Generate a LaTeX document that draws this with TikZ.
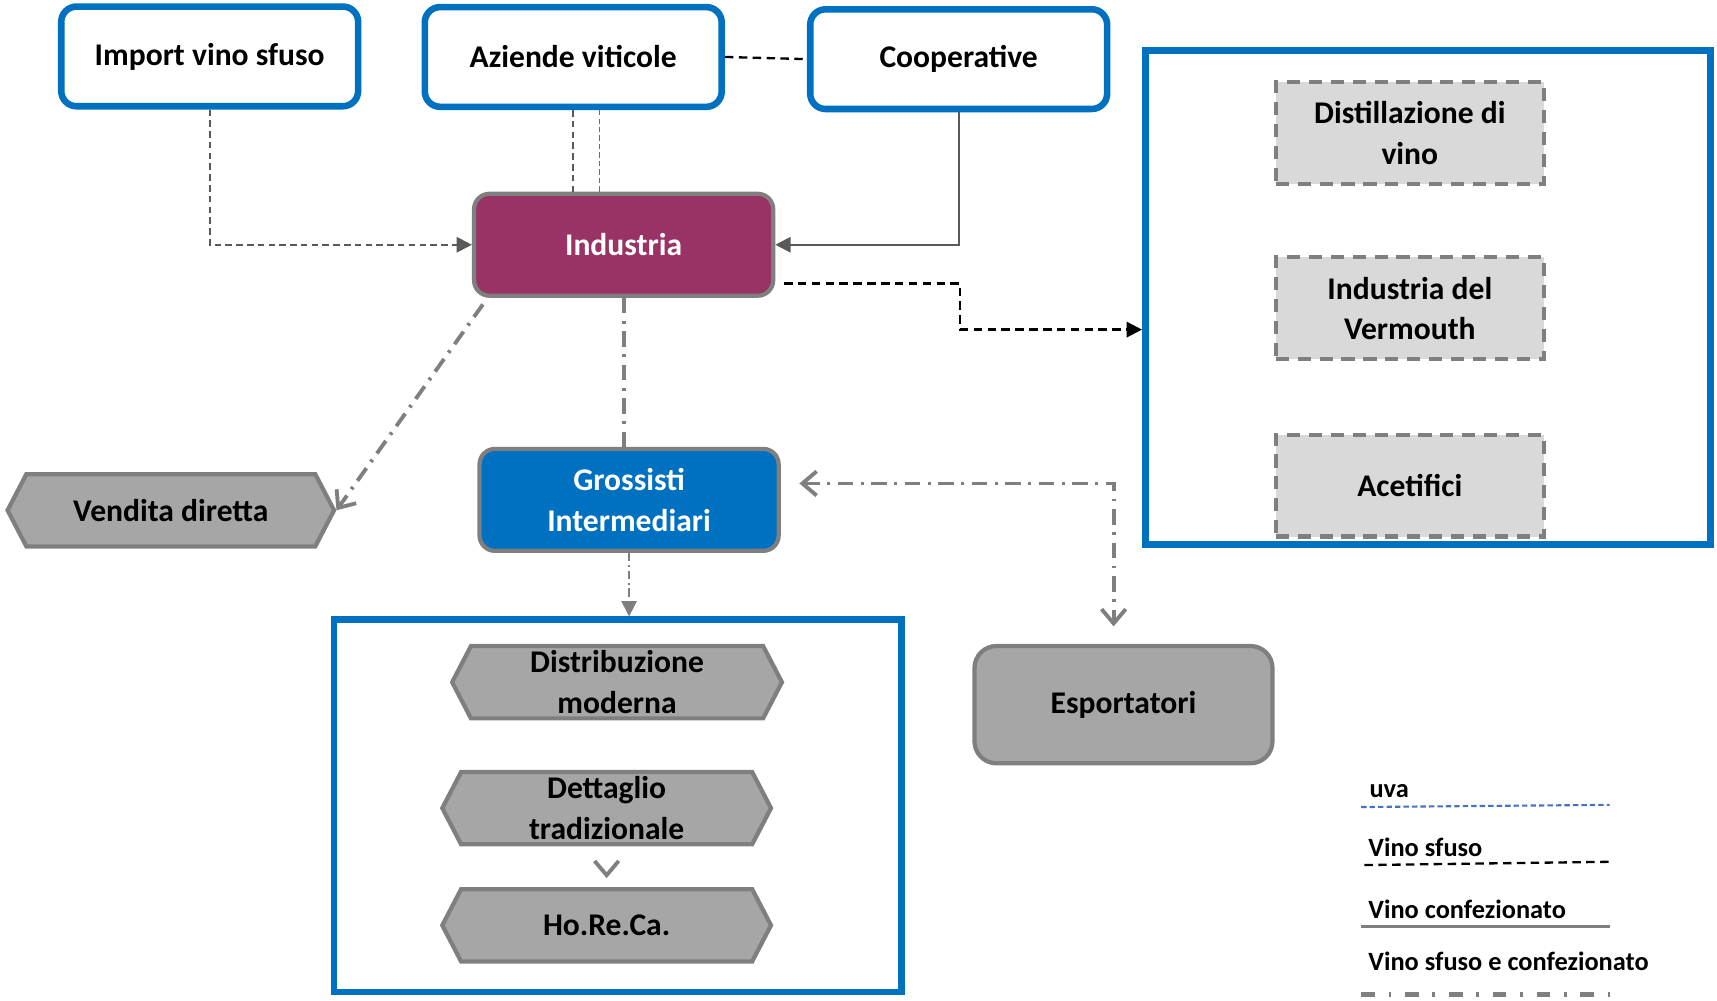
\documentclass[tikz,border=0pt]{standalone}
\usepackage{fontspec}
\setmainfont{Carlito}
\usepackage{tikz}
\usetikzlibrary{arrows.meta}
\usetikzlibrary{shapes.symbols}
\usepackage{xcolor}
\definecolor{fblue}{HTML}{0070C0}
\definecolor{fwine}{HTML}{993366}
\definecolor{fgray}{HTML}{A6A6A6}
\definecolor{fborder}{HTML}{7F7F7F}
\definecolor{flight}{HTML}{D9D9D9}
\definecolor{fdark}{HTML}{595959}
\definecolor{fuva}{HTML}{4472C4}
\newcommand{\boxfont}{\bfseries\fontsize{8.2}{10.5}\selectfont}
\newcommand{\legfont}{\bfseries\fontsize{6.85}{8}\selectfont}
\tikzset{
  actor/.style={draw=fblue, line width=1.7pt, fill=white, rounded corners=0.14cm,
    minimum width=2.71cm, minimum height=0.91cm, font=\boxfont},
  frame/.style={draw=fblue, line width=1.7pt},
  hub/.style={draw=fborder, line width=1.1pt, rounded corners=0.14cm, text=white,
    minimum width=2.73cm, minimum height=0.93cm, align=center, font=\boxfont},
  outlet/.style={signal, signal to=west and east, signal pointer angle=125,
    draw=fborder, line width=1.1pt, fill=fgray, minimum width=3.0cm,
    minimum height=0.66cm, align=center, inner sep=1pt, font=\boxfont},
  useby/.style={draw=fborder, line width=1.1pt, dash pattern=on 3.4pt off 2.3pt,
    fill=flight, minimum width=2.45cm, minimum height=0.93cm, align=center, font=\boxfont},
  sfuso/.style={draw=fdark, line width=0.55pt, dash pattern=on 1.7pt off 1.1pt},
  sfusoblk/.style={draw=black, line width=0.6pt, dash pattern=on 2.2pt off 1.4pt},
  uvaline/.style={draw=fuva, line width=0.45pt, dash pattern=on 1.4pt off 0.8pt},
  conf/.style={draw=fborder, line width=0.55pt},
  mixed/.style={draw=fborder, line width=1pt, dash pattern=on 4pt off 2pt on 0.7pt off 2pt},
  mixedthin/.style={draw=fborder, line width=0.45pt, dash pattern=on 2.2pt off 1pt on 0.4pt off 1pt},
  fillhead/.style={-{Triangle[length=0.14cm, width=0.14cm]}},
  openhead/.style={-{Straight Barb[length=0.13cm, width=0.22cm]}},
  legtext/.style={anchor=west, inner sep=0pt, font=\legfont}
}

\begin{document}
\begin{tikzpicture}[x=0.01cm, y=-0.01cm]
  \useasboundingbox (0,0) rectangle (1568,914);

  % containers
  \node[frame, minimum width=5.16cm, minimum height=4.51cm] (rbox) at (1304,271.5) {};
  \node[frame, minimum width=5.18cm, minimum height=3.40cm] (dbox) at (564,736) {};

  % suppliers
  \node[actor] (imp) at (191.5,51.5) {Import vino sfuso};
  \node[actor] (azi) at (523.5,52) {Aziende viticole};
  \node[actor] (coop) at (875.5,54) {Cooperative};

  % processing and trade
  \node[hub, fill=fwine] (ind) at (569.5,223.5) {Industria};
  \node[hub, fill=fblue] (gros) at (574.5,456.5) {Grossisti\\Intermediari};
  \node[hub, draw=fborder, fill=fgray, text=black, minimum width=2.72cm,
    minimum height=1.07cm, rounded corners=0.2cm] (esp) at (1026,643.5) {Esportatori};

  % other uses of wine
  \node[useby] (dist) at (1287.5,121.5) {Distillazione di\\vino};
  \node[useby] (verm) at (1287.5,281.5) {Industria del\\Vermouth};
  \node[useby] (acet) at (1287.5,443.5) {Acetifici};

  % retail
  \node[outlet, minimum width=2.98cm] (vend) at (156,466) {Vendita diretta};
  \node[outlet, minimum width=3.01cm] (dmod) at (563.5,623) {Distribuzione\\moderna};
  \node[outlet] (dett) at (554,738) {Dettaglio\\tradizionale};
  \node[outlet] (hrc) at (554,845) {Ho.Re.Ca.};

  % flows
  \draw[sfuso] (azi.south) -- (azi.south |- ind.north);
  \draw[uvaline] ([xshift=0.24cm]azi.south) -- ([xshift=0.24cm]azi.south |- ind.north);
  \draw[sfusoblk] (azi.east) -- (coop.west);
  \draw[sfuso, fillhead] (imp.south) |- (ind.west);
  \draw[conf, -{Triangle[length=0.14cm, width=0.14cm]}, fdark] (coop.south) |- (ind.east);
  \draw[sfusoblk, fillhead] (716,259) -- (877,259) -- (877,301) -- (rbox.west |- 0,301);
  \draw[mixed, openhead] ([xshift=0.1cm, yshift=-0.06cm]ind.south west) -- (vend.east);
  \draw[mixed] (ind.south) -- (ind.south |- gros.north);
  \draw[mixedthin, fillhead, fborder] (gros.south) -- (gros.south |- dbox.north);
  \draw[mixed, {Straight Barb[length=0.13cm, width=0.22cm]}-{Straight Barb[length=0.13cm, width=0.22cm]}]
    ([xshift=0.17cm, yshift=0.15cm]gros.east) -| ([xshift=-0.09cm, yshift=0.16cm]esp.north);
  \draw[mixed, openhead, dash pattern=on 0pt off 20pt] ([yshift=-0.14cm]dett.south) -- ([yshift=-0.29cm]dett.south);

  % legend
  \node[legtext] (luva) at (1250,722) {uva};
  \node[legtext] (lsf) at (1249,774) {Vino sfuso};
  \node[legtext] (lcf) at (1249,830) {Vino confezionato};
  \node[legtext] (lmx) at (1249,878) {Vino sfuso e confezionato};
  \draw[uvaline, line width=0.55pt] (1243,737) -- (1470,735);
  \draw[sfusoblk] (1246,790) -- (1470,787);
  \draw[conf, line width=0.9pt] (1243,846) -- (1470,846);
  \draw[mixed, line width=1.2pt, dash pattern=on 3.56pt off 3.56pt on 0.71pt off 3.56pt] (1243,908) -- (1470,908);
\end{tikzpicture}
\end{document}
